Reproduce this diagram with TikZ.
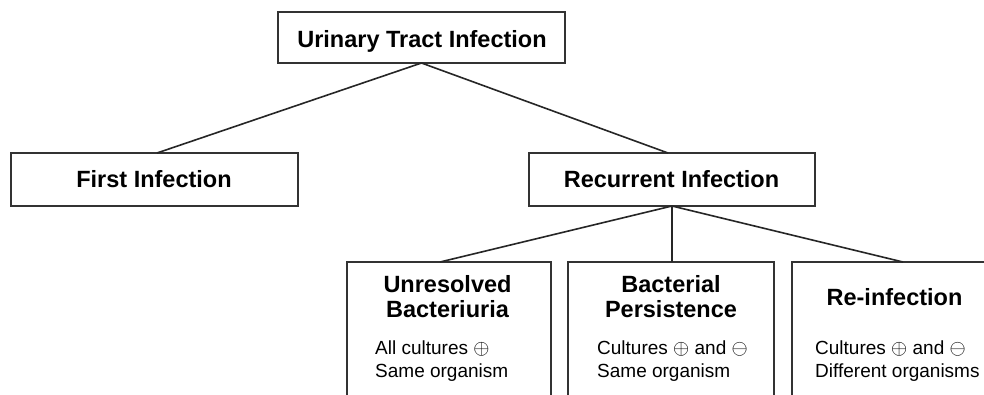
\documentclass[tikz,border=0pt]{standalone}
\usepackage{fontspec}
\setmainfont{Liberation Sans}
\newcommand{\pos}{{\fontsize{21.5}{22}\selectfont$\oplus$}}
\newcommand{\negsym}{{\fontsize{21.5}{22}\selectfont$\ominus$}}
\begin{document}
\begin{tikzpicture}[x=1pt,y=-1pt,
  box/.style={draw=black!80, line width=1.8pt, inner sep=0pt, outer sep=0pt, fill=white},
  ttl/.style={font=\fontsize{23.5}{28}\selectfont\bfseries, anchor=base, inner sep=0pt, text=black},
  note/.style={font=\fontsize{19}{22}\selectfont, anchor=base west, inner sep=0pt, text=black},
  link/.style={draw=black!85, line width=1.6pt}]
\clip (0,0) rectangle (984,394);
\fill[white] (0,0) rectangle (984,394);
% boxes
\node[box, minimum width=287pt, minimum height=51pt] (uti) at (421.5,37.5) {};
\node[box, minimum width=287pt, minimum height=53pt] (first) at (154.5,179.5) {};
\node[box, minimum width=286pt, minimum height=53pt] (rec) at (672,179.5) {};
\node[box, minimum width=204pt, minimum height=150pt] (unr) at (449,337) {};
\node[box, minimum width=206pt, minimum height=150pt] (bac) at (671,337) {};
\node[box, minimum width=206pt, minimum height=150pt] (rei) at (895,337) {};
% connectors
\draw[link] (uti.south) -- ([xshift=2.5pt]first.north);
\draw[link] (uti.south) -- ([xshift=-4pt]rec.north);
\draw[link] (rec.south) -- ([xshift=-9pt]unr.north);
\draw[link] (rec.south) -- ([xshift=1pt]bac.north);
\draw[link] (rec.south) -- ([xshift=8pt]rei.north);
% titles
\node[ttl] (utiT) at (422,47) {Urinary Tract Infection};
\node[ttl] (firstT) at (154,187) {First Infection};
\node[ttl] (recT) at (671.5,187) {Recurrent Infection};
\node[ttl] (unrT1) at (447.5,292) {Unresolved};
\node[ttl] (unrT2) at (447.5,317) {Bacteriuria};
\node[ttl] (bacT1) at (671,292) {Bacterial};
\node[ttl] (bacT2) at (671,317) {Persistence};
\node[ttl] (reiT) at (894.5,305) {Re-infection};
% notes
\node[note] (unrN1) at (375,354) {All cultures \pos};
\node[note] (unrN2) at (375,377) {Same organism};
\node[note] (bacN1) at (597,354) {Cultures \pos{} and \negsym};
\node[note] (bacN2) at (597,377) {Same organism};
\node[note] (reiN1) at (815,354) {Cultures \pos{} and \negsym};
\node[note] (reiN2) at (815,377) {Different organisms};
\end{tikzpicture}
\end{document}
